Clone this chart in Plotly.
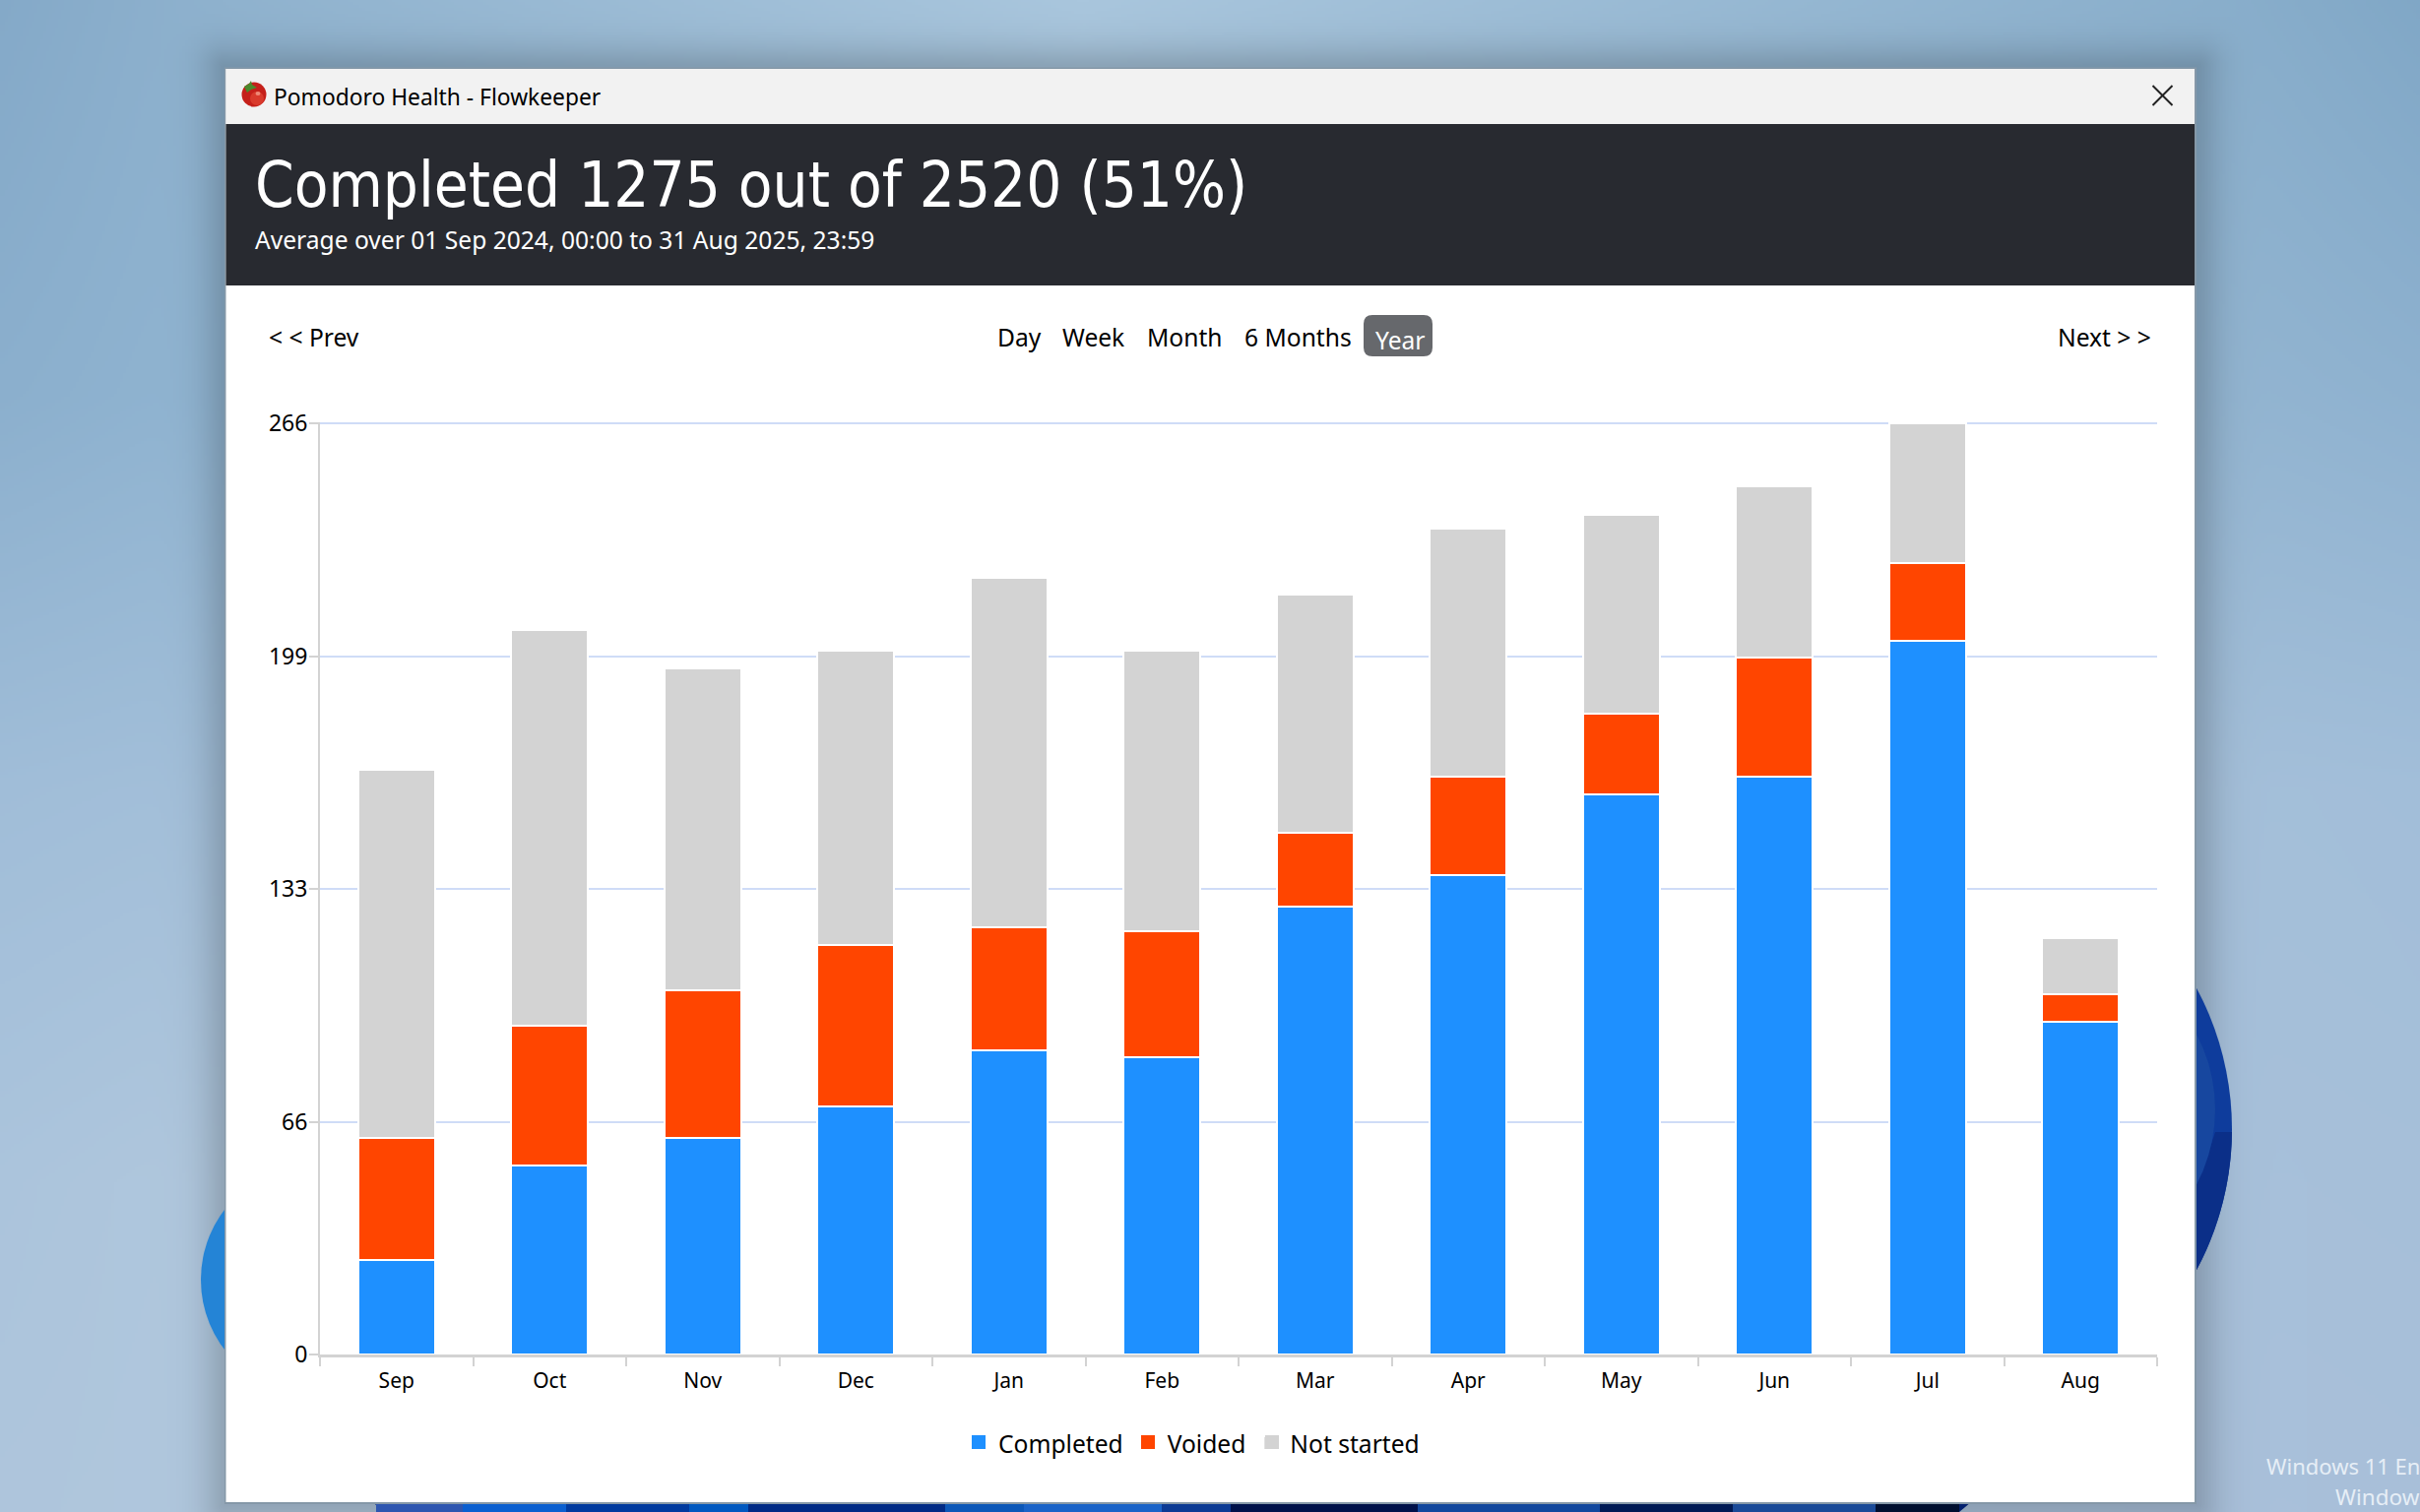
import base64, struct, zlib
import numpy as np
import plotly.graph_objects as go

W, H = 2458, 1536

# ---- chart data ----
months = ["Sep", "Oct", "Nov", "Dec", "Jan", "Feb", "Mar", "Apr", "May", "Jun", "Jul", "Aug"]
completed = [27, 54, 62, 71, 87, 85, 128, 137, 160, 165, 204, 95]
voided = [35, 40, 42, 46, 35, 36, 21, 28, 23, 34, 22, 8]
not_started = [105, 113, 92, 84, 100, 80, 68, 71, 57, 49, 40, 16]
y_tick_values = [0, 66.5, 133, 199.5, 266]
y_tick_labels = ["0", "66", "133", "199", "266"]

TITLE = "Completed 1275 out of 2520 (51%)"
SUBTITLE = "Average over 01 Sep 2024, 00:00 to 31 Aug 2025, 23:59"
UI_FONT = "Noto Sans"
HEAD_FONT = "DejaVu Sans Condensed"

# ---- desktop backdrop (soft gradient with the window's shadow) ----
grid_x = [0, 230, 1100, 2230, 2458]
grid_y = [0, 400, 800, 1200, 1536]
grid_hex = [
    ["84a9c8", "8fb2ce", "a9c6dd", "8aafcc", "80a7c6"],
    ["8bafcd", "90b4d1", "a5c2da", "93b5d1", "8eb1cf"],
    ["a0bdd8", "a3bfd9", "a5c0da", "a4bfd9", "a2bed9"],
    ["abc4dc", "b0c7dd", "aac3db", "a7c0da", "a6bfd9"],
    ["aec5dc", "b0c7dd", "b0c7dd", "a9c0da", "a8bfd9"],
]


def backdrop():
    w, h = W // 3, H // 3
    xs, ys = (np.arange(w) + .5) * 3, (np.arange(h) + .5) * 3
    g = np.array([[[int(c[i:i + 2], 16) for i in (0, 2, 4)] for c in row] for row in grid_hex], float)
    by_col = np.stack([np.stack([np.interp(ys, grid_y, g[:, j, k]) for k in range(3)], 1)
                       for j in range(len(grid_x))], 1)
    img = np.zeros((h, w, 3))
    for k in range(3):
        for r in range(h):
            img[r, :, k] = np.interp(xs, grid_x, by_col[r, :, k])
    X, Y = np.meshgrid(xs, ys)
    dx = np.maximum(np.maximum(228 - X, X - 2231), 0)
    dy = np.maximum(np.maximum(68 - Y, Y - 1528), 0)
    d = np.hypot(dx, dy)
    shade = 1 - .17 * np.exp(-(d / 24) ** 1.5)
    img = img * shade[..., None]
    raw = b"".join(b"\x00" + img[r].round().astype(np.uint8).tobytes() for r in range(h))

    def chunk(t, b):
        return struct.pack(">I", len(b)) + t + b + struct.pack(">I", zlib.crc32(t + b))
    png = (b"\x89PNG\r\n\x1a\n" + chunk(b"IHDR", struct.pack(">IIBBBBB", w, h, 8, 2, 0, 0, 0))
           + chunk(b"IDAT", zlib.compress(raw, 9)) + chunk(b"IEND", b""))
    return "data:image/png;base64," + base64.b64encode(png).decode()


def px(x):
    return x / W


def py(y):
    return 1 - y / H


def rect(x0, y0, x1, y1, fill, layer="below"):
    return dict(type="rect", xref="paper", yref="paper", x0=px(x0), x1=px(x1), y0=py(y0), y1=py(y1),
                fillcolor=fill, line_width=0, layer=layer)


def ellipse(cx, cy, rx, ry, fill, layer="below"):
    return dict(type="circle", xref="paper", yref="paper", x0=px(cx - rx), x1=px(cx + rx),
                y0=py(cy + ry), y1=py(cy - ry), fillcolor=fill, line_width=0, layer=layer)


def poly(points, fill, layer="below"):
    p = "M" + " L".join(f"{px(a):.5f},{py(b):.5f}" for a, b in points) + " Z"
    return dict(type="path", xref="paper", yref="paper", path=p, fillcolor=fill, line_width=0, layer=layer)


def seg(x0, y0, x1, y1, color, width):
    return dict(type="line", xref="paper", yref="paper", x0=px(x0), x1=px(x1), y0=py(y0), y1=py(y1),
                line=dict(color=color, width=width), layer="above")


def text(x, y, s, size, color="#000000", anchor="left", font=UI_FONT):
    return dict(xref="paper", yref="paper", x=px(x), y=py(y), text=s, showarrow=False, xanchor=anchor,
                yanchor="middle", font=dict(family=font, size=size, color=color), borderpad=0, borderwidth=0)


outer_arc = [(1964 + np.sqrt(303 ** 2 - (v - 1147) ** 2), v) for v in range(1150, 1300, 10)]
inner_arc = [(2200, 1300), (2200, 1208), (2229, 1208), (2240, 1180), (2250, 1150)]
shapes = [
    ellipse(321.6, 1300, 117.6, 117.6, "#2484d6"),
    ellipse(1964, 1147, 303, 303, "#0e3c9c"),
    poly(outer_arc + inner_arc, "#0b2f88"),
    ellipse(2087, 1127, 163, 163, "#17479f"),
    poly([(378, 1526), (2002, 1526), (1990, 1536), (392, 1536)], "#03206e"),
]
bottom_bands = [(382, 470, "#2e56b0"), (470, 575, "#0a5fd0"), (575, 700, "#003a9f"), (700, 760, "#0058c0"),
                (760, 960, "#002a85"), (960, 1040, "#0b57b8"), (1040, 1180, "#1a63c8"), (1180, 1250, "#0b3a94"),
                (1250, 1440, "#00114a"), (1440, 1625, "#12489e"), (1625, 1760, "#001a55"), (1760, 1905, "#1a4a98"),
                (1905, 1990, "#000f30")]
for a, b, c in bottom_bands:
    shapes.append(rect(a, 1527, b, 1536, c))
shapes += [
    rect(228, 68.5, 2231, 1528, "#8598a8"),
    rect(229.5, 70, 2229, 1526, "#ffffff"),
    rect(229.5, 70, 2229, 126, "#f2f2f2"),
    rect(229.5, 126, 2229, 290, "#282a30"),
    ellipse(258, 96, 12.5, 12.5, "#c5201a"),
    ellipse(261, 100, 7, 7, "#d93a2c"),
    ellipse(262, 95, 2.5, 2, "#ee8a78"),
    poly([(248, 88), (253, 85), (255, 82), (256, 86), (261, 89), (255, 91), (251, 94)], "#4a8a2c"),
    seg(2186.5, 87, 2206.5, 107, "#222222", 2),
    seg(2186.5, 107, 2206.5, 87, "#222222", 2),
    rect(987, 1458, 1001, 1472, "#1e90ff", "above"),
    rect(1159, 1458, 1173, 1472, "#ff4500", "above"),
    rect(1285, 1458, 1299, 1472, "#d3d3d3", "above"),
]
# rounded "Year" button
bx0, bx1, by0, by1, br = 1385, 1455, 320, 362, 9
shapes.append(dict(type="path", xref="paper", yref="paper", layer="below", fillcolor="#66686c", line_width=0,
                   path=(f"M{px(bx0 + br):.5f},{py(by0):.5f} L{px(bx1 - br):.5f},{py(by0):.5f} "
                         f"Q{px(bx1):.5f},{py(by0):.5f} {px(bx1):.5f},{py(by0 + br):.5f} "
                         f"L{px(bx1):.5f},{py(by1 - br):.5f} Q{px(bx1):.5f},{py(by1):.5f} {px(bx1 - br):.5f},{py(by1):.5f} "
                         f"L{px(bx0 + br):.5f},{py(by1):.5f} Q{px(bx0):.5f},{py(by1):.5f} {px(bx0):.5f},{py(by1 - br):.5f} "
                         f"L{px(bx0):.5f},{py(by0 + br):.5f} Q{px(bx0):.5f},{py(by0):.5f} {px(bx0 + br):.5f},{py(by0):.5f} Z")))

annotations = [
    text(278, 98.5, "Pomodoro Health - Flowkeeper", 22.8),
    text(259, 188, TITLE, 63.2, "#ffffff", font=HEAD_FONT),
    text(259, 244, SUBTITLE, 24.6, "#ffffff"),
    text(273, 343, "&lt; &lt; Prev", 24.6),
    text(1013, 343, "Day", 24.6),
    text(1079, 343, "Week", 24.6),
    text(1165, 343, "Month", 24.6),
    text(1264, 343, "6 Months", 24.6),
    text(1422, 345, "Year", 24.6, "#ffffff", anchor="center"),
    text(2185, 343, "Next &gt; &gt;", 24.6, anchor="right"),
    text(2458, 1489, "Windows 11 En", 22, "#e6eef6", anchor="right"),
    text(2458, 1520, "Window", 22.5, "#e6eef6", anchor="right"),
]

fig = go.Figure()
series = [("Completed", completed, "#1e90ff"), ("Voided", voided, "#ff4500"), ("Not started", not_started, "#d3d3d3")]
for name, vals, col in series:
    fig.add_trace(go.Bar(name=name, x=months, y=vals, width=0.5, showlegend=False,
                         marker=dict(color=col, line=dict(color="#ffffff", width=2))))
# legend keys carry no white outline
for name, vals, col in series:
    fig.add_trace(go.Bar(name=name, x=months[:1], y=[None], marker=dict(color=col, line=dict(width=0)), showlegend=True))

fig.update_layout(
    width=W, height=H, autosize=False, margin=dict(l=0, r=0, t=0, b=0, autoexpand=False),
    paper_bgcolor="#a5c0da", plot_bgcolor="rgba(0,0,0,0)",
    barmode="stack", showlegend=True,
    font=dict(family=UI_FONT, size=22, color="#000000"),
    xaxis=dict(domain=[px(325), px(2191)], type="category", range=[-0.5, 11.5], tickson="boundaries",
               ticks="outside", ticklen=9, tickwidth=2, tickcolor="#d3d3d3", showline=True, linecolor="#d3d3d3",
               linewidth=2.5, showgrid=False, tickfont=dict(size=21), fixedrange=True, ticklabelstandoff=6),
    yaxis=dict(domain=[py(1376), py(429)], range=[0, 266.3], tickvals=y_tick_values, ticktext=y_tick_labels,
               ticks="outside", ticklen=9, tickwidth=2, tickcolor="#d3d3d3", showline=True, linecolor="#d3d3d3",
               linewidth=2, showgrid=True, gridcolor="#cfdcf7", gridwidth=2, zeroline=False,
               tickfont=dict(size=23), fixedrange=True, ticklabelstandoff=-3),
    legend=dict(orientation="h", x=0.4925, xanchor="center", y=py(1466), yanchor="middle",
                traceorder="normal", font=dict(size=24.6), bgcolor="rgba(0,0,0,0)"),
    shapes=shapes, annotations=annotations,
    images=[dict(source=backdrop(), xref="paper", yref="paper", x=0, y=1, sizex=1, sizey=1,
                 xanchor="left", yanchor="top", sizing="stretch", layer="below")],
)
fig.write_html("out.html", config={"displayModeBar": False},
               post_script="document.body.style.margin='0';document.body.style.overflow='hidden';")
